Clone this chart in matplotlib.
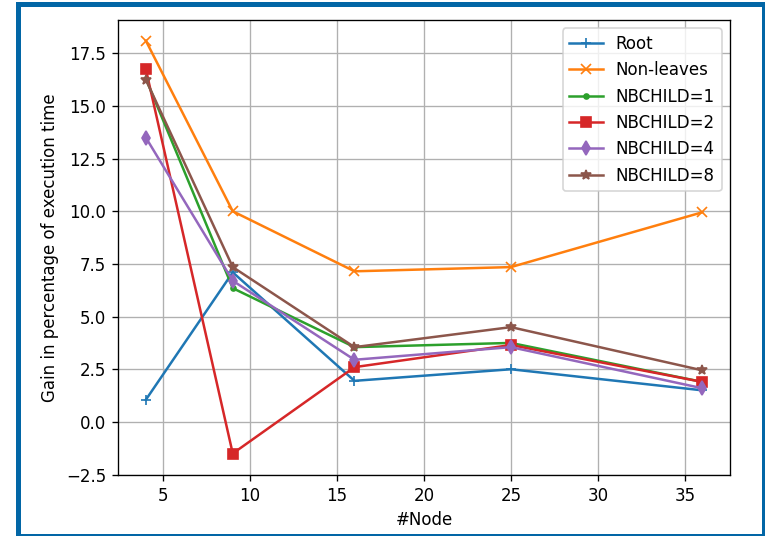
import matplotlib
matplotlib.use('Agg')
import matplotlib.pyplot as plt
from matplotlib.patches import Rectangle

nodes = [4, 9, 16, 25, 36]
root = [1.05, 7.1, 1.95, 2.5, 1.5]
non_leaves = [18.1, 10.0, 7.15, 7.35, 9.95]
nbchild1 = [16.3, 6.35, 3.55, 3.75, 1.9]
nbchild2 = [16.75, -1.5, 2.6, 3.65, 1.9]
nbchild4 = [13.5, 6.7, 2.95, 3.55, 1.6]
nbchild8 = [16.25, 7.35, 3.55, 4.5, 2.45]

fig = plt.figure(figsize=(765 / 120, 536 / 120), dpi=120)
ax = fig.add_axes([118 / 765, 1 - 475 / 536, (730 - 118) / 765, (475 - 20) / 536])

ax.plot(nodes, root, label='Root', marker='+')
ax.plot(nodes, non_leaves, label='Non-leaves', marker='x')
ax.plot(nodes, nbchild1, label='NBCHILD=1', marker='.')
ax.plot(nodes, nbchild2, label='NBCHILD=2', marker='s')
ax.plot(nodes, nbchild4, label='NBCHILD=4', marker='d')
ax.plot(nodes, nbchild8, label='NBCHILD=8', marker='*')

ax.set_ylim(-2.52, 19.08)
ax.set_xlabel('#Node')
ax.set_ylabel('Gain in percentage of execution time')
ax.legend(loc='upper right')
ax.grid(True)

# blue frame around the picture
fig.add_artist(Rectangle((17.5 / 765, 1 - 535.5 / 536), (763.5 - 17.5) / 765, (535.5 - 4) / 536,
                         transform=fig.transFigure, fill=False, edgecolor='#0266a6',
                         linewidth=5 * 72 / 120))

fig.savefig('out.png', dpi=120)
